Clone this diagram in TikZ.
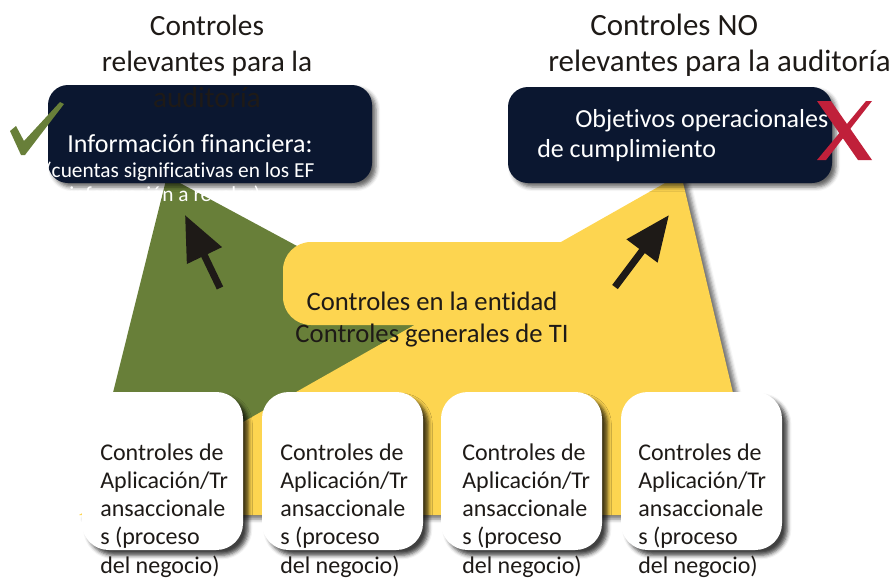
\documentclass[tikz,border=0pt]{standalone}
\usepackage{fontspec}
\setmainfont{Carlito}[RawFeature={-liga,-clig,-dlig}]
\usetikzlibrary{arrows.meta,shadows.blur}
\definecolor{navy}{RGB}{11,23,48}
\definecolor{olive}{RGB}{104,127,57}
\definecolor{gold}{RGB}{253,213,80}
\definecolor{ink}{RGB}{30,26,23}
\definecolor{crimson}{RGB}{192,32,58}
\tikzset{
  darkbox/.style={fill=navy, rounded corners=15pt, inner sep=0pt,
    minimum width=243pt, minimum height=72pt,
    blur shadow={shadow xshift=3pt, shadow yshift=-3pt, shadow blur radius=3pt, shadow opacity=60}},
  whitebox/.style={fill=white, rounded corners=20pt, inner sep=0pt,
    minimum width=120.75pt, minimum height=118.5pt,
    blur shadow={shadow xshift=4pt, shadow yshift=-4pt, shadow blur radius=3pt, shadow opacity=75}},
  bigarrow/.style={ink, line width=5.25pt, -{Triangle[length=33.75pt,width=27.75pt]}},
  titletext/.style={ink, inner sep=0pt, anchor=base, font=\fontsize{22}{26}\selectfont},
  boxtitle/.style={white, inner sep=0pt, font=\fontsize{19.5}{23}\selectfont},
  smalltext/.style={white, inner sep=0pt, anchor=base west, font=\fontsize{16}{19}\selectfont},
  midtext/.style={ink, inner sep=0pt, anchor=base, font=\fontsize{20}{24}\selectfont},
  apptext/.style={ink, inner sep=0pt, anchor=base west, font=\fontsize{18}{21}\selectfont},
}
\begin{document}
\begin{tikzpicture}[x=0.75pt,y=-0.75pt]
\useasboundingbox (0,0) rectangle (893,579);
% funnel shapes
\fill[olive] (167,176) -- (583,400) -- (700,505) -- (85,505) -- cycle;
\fill[gold, blur shadow={shadow xshift=4pt, shadow yshift=-3pt, shadow blur radius=3pt, shadow opacity=55}]
  (681,174) -- (762,515) -- (79,515) -- cycle;
\fill[gold, rounded corners=21pt] (283,242) rectangle (610,325);
% arrows
\coordinate (la0) at (220,288);
\coordinate (la1) at (185,215);
\coordinate (ra0) at (615,287);
\coordinate (ra1) at (669,215);
\draw[bigarrow] (la0) -- (la1);
\draw[bigarrow] (ra0) -- (ra1);
% dark boxes
\node[darkbox, minimum height=73.5pt] (fin) at (210,134) {};
\node[darkbox] (ope) at (670,135) {};
% white boxes
\foreach \cx/\nm in {162.5/a1, 342.5/a2, 521.5/a3, 701.5/a4}{
  \node[whitebox] (\nm) at (\cx,471) {};
}
% titles
\node[titletext] (tl1) at (207,35) {Controles};
\node[titletext] (tl2) at (207,71) {relevantes para la};
\node[titletext] (tl3) at (207,107) {auditoría};
\node[titletext, anchor=base west, font=\fontsize{23.2}{27}\selectfont] (tr1) at (590,35) {Controles NO};
\node[titletext, anchor=base west, font=\fontsize{23.2}{27}\selectfont] (tr2) at (548,71) {relevantes para la auditoría};
% box texts
\node[boxtitle, anchor=base] (fin1) at (190,152) {Información financiera:};
\node[smalltext] (fin2) at (45,177) {(cuentas significativas en los EF};
\node[smalltext] (fin3) at (53,201) {o información a revelar)};
\node[boxtitle, anchor=base west] (ope1) at (575,127) {Objetivos operacionales y};
\node[boxtitle, anchor=base west] (ope2) at (537,157) {de cumplimiento};
% middle
\node[midtext] (mid1) at (432,310) {Controles en la entidad};
\node[midtext] (mid2) at (432,342) {Controles generales de TI};
% application texts
\foreach \lx/\nm in {100/a1, 280/a2, 462/a3, 638/a4}{
  \foreach \t [count=\i from 0] in {Controles de, Aplicación/Tr, ansaccionale, s (proceso, del negocio)}{
    \node[apptext] (\nm t\i) at (\lx,460+28.3*\i) {\t};
  }
}
% check mark
\fill[olive] (10,131) -- (16,126) -- (24,141) -- (60,102) -- (64,104) -- (25,155) -- (21,155) -- cycle;
% red X
\fill[crimson] (817,101) -- (831,101) -- (872,160) -- (858,160) -- cycle;
\fill[crimson] (866,101) -- (872,101) -- (826,160) -- (817,160) -- cycle;
\end{tikzpicture}
\end{document}
